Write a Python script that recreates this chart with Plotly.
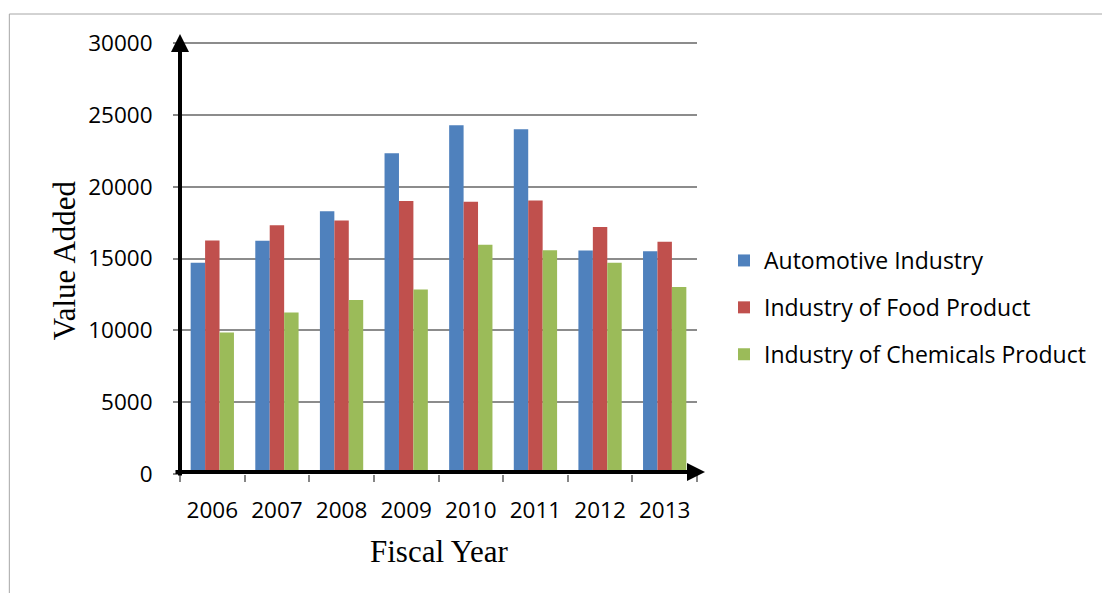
import plotly.graph_objects as go

years = ["2006", "2007", "2008", "2009", "2010", "2011", "2012", "2013"]
automotive = [14700, 16230, 18290, 22320, 24270, 23990, 15550, 15500]
food = [16250, 17320, 17640, 19010, 18950, 19040, 17200, 16160]
chemicals = [9850, 11250, 12110, 12850, 15950, 15570, 14710, 13020]
y_ticks = [0, 5000, 10000, 15000, 20000, 25000, 30000]
y_tick_text = ["0", "5000", "10000", "15000", "20000", "25000", "30000"]

series = [
    ("Automotive Industry", automotive, "#4F81BD"),
    ("Industry of Food Product", food, "#C0504D"),
    ("Industry of Chemicals Product", chemicals, "#9BBB59"),
]

W, H = 1102, 593
L, R, T, B = 180, 404, 37, 119
PW, PH = W - L - R, H - T - B
YMAX = 30000 * PH / 431.0

def px_x(p):
    return (p - L) / PW

def px_y(p):
    return (H - B - p) / PH

SANS = "Open Sans, Calibri, sans-serif"
SERIF = "Liberation Serif, Times New Roman, serif"

fig = go.Figure()
for i, (name, vals, col) in enumerate(series):
    fig.add_trace(go.Bar(
        x=years, y=vals, name=name, marker_color=col,
        marker_line_width=0, legendgroup=f"g{i}",
    ))

fig.update_layout(
    width=W, height=H,
    margin=dict(l=L, r=R, t=T, b=B),
    paper_bgcolor="white", plot_bgcolor="white",
    barmode="group", bargap=0.33, bargroupgap=0,
    font=dict(family=SANS, size=22, color="black"),
    showlegend=True,
    legend=dict(
        x=px_x(724), y=px_y(239), xanchor="left", yanchor="top",
        font=dict(family=SANS, size=23),
        tracegroupgap=14, itemwidth=30,
        bgcolor="rgba(0,0,0,0)",
    ),
)
fig.update_xaxes(
    type="category", showline=False, showgrid=False,
    ticks="outside", tickson="boundaries", ticklen=7, tickcolor="#868686",
    tickwidth=1.5, tickfont=dict(family=SANS, size=22.5), zeroline=False,
    ticklabelstandoff=20,
)
fig.update_yaxes(
    range=[0, YMAX], tickmode="array", tickvals=y_ticks, ticktext=y_tick_text,
    showgrid=True, gridcolor="#8c8c8c", gridwidth=1.5,
    ticks="outside", ticklen=6, tickcolor="#868686", tickwidth=1.5,
    ticklabelstandoff=16, tickfont=dict(family=SANS, size=22.5),
    zeroline=False, showline=False,
)

# Outer frame
fig.add_shape(type="line", xref="paper", yref="paper",
              x0=px_x(9), x1=px_x(1110), y0=px_y(14), y1=px_y(14),
              line=dict(color="#a6a6a6", width=1))
fig.add_shape(type="line", xref="paper", yref="paper",
              x0=px_x(9), x1=px_x(9), y0=px_y(14), y1=px_y(600),
              line=dict(color="#a6a6a6", width=1))

# Axis arrows
fig.add_annotation(xref="paper", yref="paper", x=0, y=px_y(34), ax=0, ay=443,
                   axref="pixel", ayref="pixel", text="", showarrow=True,
                   arrowhead=2, arrowwidth=4, arrowsize=0.9, arrowcolor="black", standoff=0)
fig.add_annotation(xref="paper", yref="paper", x=px_x(706), y=px_y(472), ax=-531, ay=0,
                   axref="pixel", ayref="pixel", text="", showarrow=True,
                   arrowhead=2, arrowwidth=4, arrowsize=0.9, arrowcolor="black", standoff=0)

# Axis titles
fig.add_annotation(xref="paper", yref="paper", x=px_x(440), y=px_y(551),
                   text="Fiscal Year", showarrow=False, xanchor="center", yanchor="middle",
                   font=dict(family=SERIF, size=31))
fig.add_annotation(xref="paper", yref="paper", x=px_x(64), y=px_y(260),
                   text="Value Added", showarrow=False, textangle=-90,
                   xanchor="center", yanchor="middle",
                   font=dict(family=SERIF, size=31))

fig.write_html("out.html")
